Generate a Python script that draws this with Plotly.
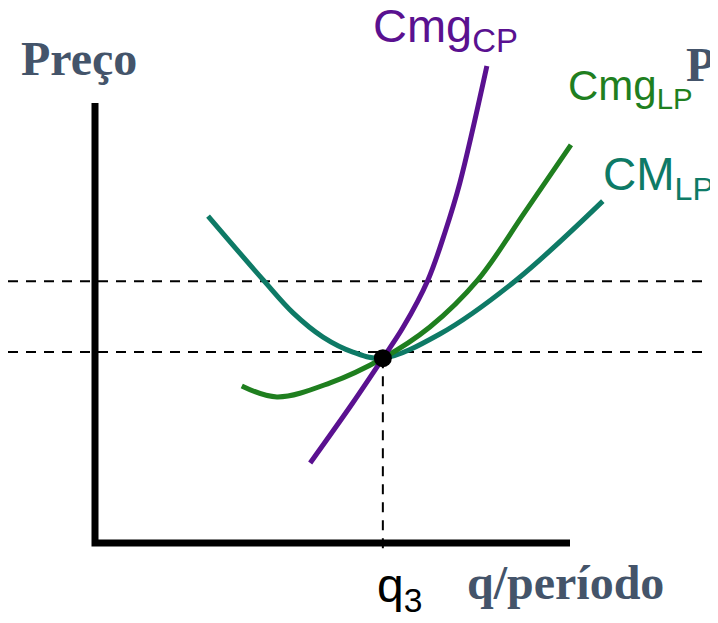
import plotly.graph_objects as go

# page is 718x623; plotly's page body has an 8px margin
PAGE_W, PAGE_H = 718, 623
OFF = 8
W, H = PAGE_W - OFF, PAGE_H - OFF

# ---- data (q units, price units) ----
q_cm_lp = [2.38, 3.54, 4.17, 4.80, 5.43, 6.06, 7.26, 8.84, 10.69]
p_cm_lp = [7.43, 5.98, 5.23, 4.68, 4.34, 4.20, 4.75, 5.95, 7.77]

q_cmg_lp = [3.09, 3.83, 4.95, 6.06, 7.05, 8.06, 9.05, 10.02]
p_cmg_lp = [3.57, 3.32, 3.64, 4.20, 4.91, 5.98, 7.52, 9.05]

q_cmg_cp = [4.53, 5.41, 6.06, 6.48, 7.01, 7.37, 7.68, 8.25]
p_cmg_cp = [1.82, 3.16, 4.20, 4.89, 5.98, 7.07, 8.18, 10.84]

q3 = 6.06
p_eq = 4.20
price_levels = [5.95, 4.34]
axis_q_max = 10.0
axis_p_max = 10.0

# ---- frame: page pixel (95, 543) is the origin, 47.5 px per q unit, 44 px per p unit ----
X_RANGE = [(OFF - 95) / 47.5, (PAGE_W - 95) / 47.5]
Y_RANGE = [-(PAGE_H - 543) / 44, (543 - OFF) / 44]

def px(x):
    return (x - OFF) / W

def py(y):
    return 1 - (y - OFF) / H

PURPLE = "#5a1190"
GREEN = "#1f7f1f"
TEAL = "#0e7a66"
SLATE = "#44546a"

fig = go.Figure()

# dashed guide lines
for p in price_levels:
    fig.add_trace(go.Scatter(x=[X_RANGE[0], X_RANGE[1]], y=[p, p], mode="lines",
                             line=dict(color="black", width=2, dash="10px,8px"),
                             hoverinfo="skip"))
fig.add_trace(go.Scatter(x=[q3, q3], y=[p_eq, -0.2], mode="lines",
                         line=dict(color="black", width=2, dash="10px,8px"),
                         hoverinfo="skip"))

# axes
fig.add_trace(go.Scatter(x=[0, 0, axis_q_max], y=[axis_p_max, 0, 0], mode="lines",
                         line=dict(color="black", width=7), hoverinfo="skip"))

# curves
fig.add_trace(go.Scatter(x=q_cm_lp, y=p_cm_lp, mode="lines",
                         line=dict(color=TEAL, width=5, shape="spline", smoothing=1.0)))
fig.add_trace(go.Scatter(x=q_cmg_lp, y=p_cmg_lp, mode="lines",
                         line=dict(color=GREEN, width=5, shape="spline", smoothing=1.0)))
fig.add_trace(go.Scatter(x=q_cmg_cp, y=p_cmg_cp, mode="lines",
                         line=dict(color=PURPLE, width=5, shape="spline", smoothing=1.0)))

# equilibrium point
fig.add_trace(go.Scatter(x=[q3], y=[p_eq], mode="markers",
                         marker=dict(color="black", size=18)))

serif = dict(family="Liberation Serif, Times New Roman, serif", size=48, color=SLATE)
sans = "Liberation Sans, Arial, sans-serif"

annots = [
    dict(text="<b>Preço</b>", x=px(19), y=py(58), font=serif),
    dict(text="<b>Preço</b>", x=px(684), y=py(64), font=serif),
    dict(text="<b>q/período</b>", x=px(465), y=py(582), font=serif),
    dict(text="q<sub>3</sub>", x=px(375), y=py(589), font=dict(family=sans, size=48, color="black")),
    dict(text="Cmg<sub>CP</sub>", x=px(371), y=py(29), font=dict(family=sans, size=47, color=PURPLE)),
    dict(text="Cmg<sub>LP</sub>", x=px(566), y=py(88), font=dict(family=sans, size=42, color=GREEN)),
    dict(text="CM<sub>LP</sub>", x=px(601), y=py(178), font=dict(family=sans, size=46, color=TEAL)),
]
for a in annots:
    fig.add_annotation(xref="paper", yref="paper", xanchor="left", yanchor="middle",
                       showarrow=False, **a)

fig.update_layout(
    width=W, height=H,
    margin=dict(l=0, r=0, t=0, b=0),
    paper_bgcolor="white", plot_bgcolor="white",
    showlegend=False,
    xaxis=dict(range=X_RANGE, visible=False, fixedrange=True),
    yaxis=dict(range=Y_RANGE, visible=False, fixedrange=True),
)

fig.write_html("out.html")
